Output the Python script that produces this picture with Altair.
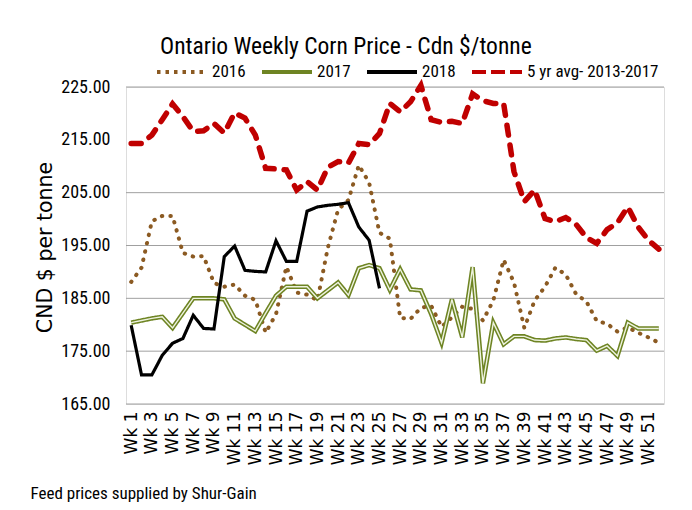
import altair as alt
import pandas as pd

weeks = [f"Wk {i}" for i in range(1, 53)]

p2016 = [188.1, 190.8, 199.6, 200.6, 200.6, 193.6, 192.9, 193.0, 187.9, 187.2,
         187.6, 185.5, 184.7, 178.5, 182.0, 191.0, 186.1, 185.7, 184.6, 194.5,
         201.8, 203.6, 210.2, 206.9, 197.4, 196.3, 181.3, 181.1, 183.2, 183.6,
         179.6, 181.4, 183.4, 183.0, 180.8, 184.6, 192.3, 188.0, 179.4, 184.6,
         187.2, 190.8, 189.5, 185.8, 184.4, 180.7, 180.2, 178.7, 179.5, 178.5,
         177.6, 176.6]
p2017 = [180.4, 180.8, 181.2, 181.5, 179.4, 182.2, 185.0, 185.0, 185.0, 184.8,
         181.2, 180.0, 178.8, 182.2, 185.5, 187.2, 187.2, 187.2, 185.0, 186.5,
         188.0, 185.6, 190.7, 191.3, 190.7, 186.6, 190.5, 186.7, 186.5, 182.0,
         176.6, 184.8, 177.6, 190.9, 168.9, 180.4, 176.3, 177.8, 177.8, 177.1,
         177.0, 177.4, 177.6, 177.3, 177.1, 175.1, 176.0, 174.1, 180.4, 179.3,
         179.3, 179.3]
p2018 = [179.9, 170.5, 170.5, 174.2, 176.5, 177.4, 181.8, 179.3, 179.2, 192.9,
         194.9, 190.3, 190.1, 190.0, 195.9, 192.0, 192.0, 201.5, 202.3, 202.6,
         202.8, 203.1, 198.5, 196.0, 186.9]
avg5 = [214.3, 214.3, 215.9, 218.8, 221.8, 219.4, 216.6, 216.7, 218.1, 216.3,
        220.1, 219.1, 215.9, 209.6, 209.5, 209.3, 205.5, 207.1, 205.5, 209.8,
        210.9, 210.6, 214.3, 214.1, 216.2, 221.9, 220.3, 222.2, 225.3, 218.8,
        218.3, 218.5, 218.1, 223.7, 222.4, 221.9, 221.9, 209.0, 203.3, 205.5,
        200.1, 199.5, 200.3, 199.0, 196.5, 195.4, 198.0, 199.3, 202.3, 198.5,
        196.0, 194.3]

series_names = ["2016", "2017", "2018", "5 yr avg- 2013-2017"]
series_colors = ["#8B5A22", "#6E8423", "#000000", "#C00000"]
series_dashes = [[3.5, 5], [1, 0], [1, 0], [14, 5]]
y_ticks = [165, 175, 185, 195, 205, 215, 225]
grid_values = [165, 175, 185, 195, 205, 225]
x_label_weeks = weeks[::2]

rows = []
for name, vals in zip(series_names, [p2016, p2017, p2018, avg5]):
    for w, v in zip(weeks, vals):
        rows.append({"week": w, "price": v, "series": name})
df = pd.DataFrame(rows)

NARROW = "Liberation Sans Narrow, Arial Narrow, Roboto Condensed, sans-serif"
WIDE = "DejaVu Sans, Verdana, sans-serif"

yscale = alt.Scale(domain=[165, 225], nice=False, zero=False)
y_axis = alt.Axis(values=y_ticks, format=".2f", grid=False, ticks=False, domain=False,
                  labelFont=NARROW, labelFontSize=18, labelColor="#000", labelPadding=16,
                  title="CND $ per tonne", titleFont=WIDE, titleFontSize=20.5,
                  titleFontWeight="normal", titleColor="#000", titleAngle=270,
                  titleX=-81, titleY=160, titleAlign="center", titleBaseline="middle")
y_enc = alt.Y("price:Q", scale=yscale, axis=y_axis)
x_enc = alt.X(
    "week:O", sort=weeks, scale=alt.Scale(domain=weeks, type="point", padding=0.5),
    axis=alt.Axis(values=x_label_weeks, labelAngle=270, labelAlign="right",
                  labelBaseline="middle", labelFont=WIDE, labelFontSize=17,
                  labelColor="#000", labelPadding=7, ticks=False, domain=False,
                  grid=False,
                  title="Feed prices supplied by Shur-Gain", titleFont=NARROW,
                  titleFontSize=17, titleFontWeight="normal", titleColor="#000",
                  titleAngle=0, titleX=-96, titleY=89, titleAlign="left",
                  titleBaseline="middle"),
)

legend = alt.Legend(
    title=None, orient="none", direction="horizontal", legendX=29, legendY=-42,
    symbolType="stroke", symbolSize=2500, symbolStrokeWidth=4,
    labelFont=NARROW, labelFontSize=17, labelColor="#000", labelOffset=3,
    columnPadding=8, padding=0, columns=4, labelLimit=300,
)
color_enc = alt.Color("series:N", scale=alt.Scale(domain=series_names, range=series_colors),
                      legend=legend)
dash_enc = alt.StrokeDash("series:N", scale=alt.Scale(domain=series_names, range=series_dashes),
                          legend=legend)

grid = alt.Chart(pd.DataFrame({"price": grid_values})).mark_rule(
    color="#A0A0A0", strokeWidth=1
).encode(y=y_enc)

base = alt.Chart(df)

l2016 = base.transform_filter(alt.datum.series == "2016").mark_line(
    strokeWidth=4, strokeDash=[0.5, 8], strokeCap="round"
).encode(x=x_enc, y=y_enc, color=color_enc)
l2017 = base.transform_filter(alt.datum.series == "2017").mark_line(
    strokeWidth=4.5).encode(x=x_enc, y=y_enc, color=color_enc, strokeDash=dash_enc)
l2017_inner = base.transform_filter(alt.datum.series == "2017").mark_line(
    strokeWidth=1.4, color="#EEF3E0").encode(x=x_enc, y=y_enc)
l2018 = base.transform_filter(alt.datum.series == "2018").mark_line(
    strokeWidth=3.2).encode(x=x_enc, y=y_enc, color=color_enc, strokeDash=dash_enc)
lavg = base.transform_filter(alt.datum.series == "5 yr avg- 2013-2017").mark_line(
    strokeWidth=5.5, strokeDash=[10, 10], strokeCap="round"
).encode(x=x_enc, y=y_enc, color=color_enc)

chart = alt.layer(grid, l2016, l2017, l2017_inner, l2018, lavg).properties(
    width=538, height=317,
    autosize=alt.AutoSizeParams(type="none"),
    padding={"left": 118, "top": 79, "right": 20, "bottom": 100},
    title=alt.TitleParams("Ontario Weekly Corn Price - Cdn $/tonne", font=NARROW,
                          fontSize=23.5, fontWeight="normal", color="#000",
                          anchor="start", dx=34, dy=17, frame="group"),
).configure_view(stroke=None).configure(background="white")

chart.save("out.html", embed_options={"renderer": "svg", "actions": False})
